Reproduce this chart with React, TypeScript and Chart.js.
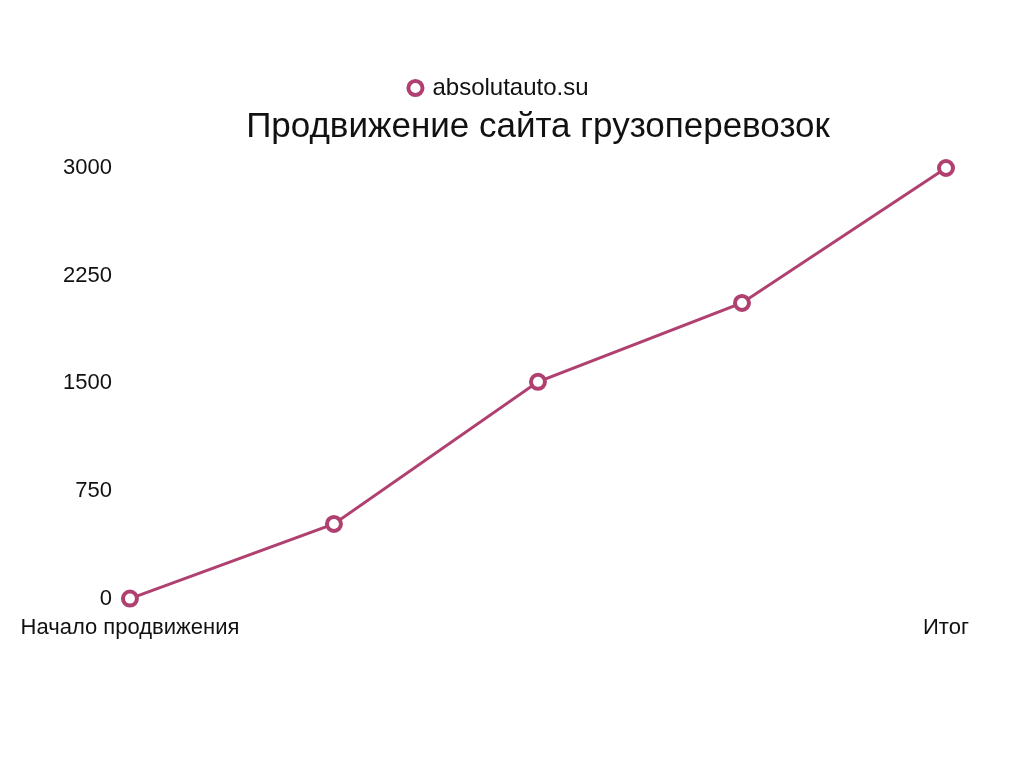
import { useEffect, useRef } from 'react';
import { Chart, registerables } from 'chart.js';

Chart.register(...registerables);

const labels = ['Начало продвижения', '', '', '', 'Итог'];
const visits = [0, 520, 1510, 2060, 3000];
const seriesName = 'absolutauto.su';
const titleText = 'Продвижение сайта грузоперевозок';

const lineColor = '#b0406f';
const fontFamily = '"Liberation Sans", Arial, Helvetica, sans-serif';

const App = () => {
  const canvasRef = useRef<HTMLCanvasElement>(null);
  const chartRef = useRef<Chart | null>(null);

  useEffect(() => {
    if (!canvasRef.current) return;
    if (chartRef.current) chartRef.current.destroy();

    chartRef.current = new Chart(canvasRef.current, {
      type: 'line',
      data: {
        labels,
        datasets: [
          {
            label: seriesName,
            data: visits,
            borderColor: lineColor,
            backgroundColor: '#ffffff',
            borderWidth: 3,
            pointRadius: 7,
            pointBorderWidth: 4,
            pointBackgroundColor: '#ffffff',
            pointBorderColor: lineColor,
            tension: 0,
            clip: false,
          },
        ],
      },
      options: {
        responsive: true,
        maintainAspectRatio: false,
        animation: false,
        layout: {
          padding: { left: 53, right: 78, top: 74, bottom: 119 },
        },
        plugins: {
          legend: {
            position: 'top',
            weight: 3000,
            labels: {
              usePointStyle: true,
              pointStyle: 'circle',
              boxWidth: 10,
              boxHeight: 10,
              color: '#111',
              font: { family: fontFamily, size: 24 },
              padding: 2,
            },
          },
          title: {
            display: true,
            fullSize: false,
            text: titleText,
            color: '#111',
            font: { family: fontFamily, size: 35, weight: 'normal', lineHeight: 1 },
            padding: { top: 0, bottom: 23 },
          },
          tooltip: { enabled: false },
        },
        scales: {
          x: {
            grid: { display: false },
            border: { display: false },
            ticks: {
              color: '#111',
              font: { family: fontFamily, size: 22 },
              autoSkip: false,
              maxRotation: 0,
              padding: 8,
            },
          },
          y: {
            min: 0,
            max: 3000,
            grid: { display: false },
            border: { display: false },
            ticks: {
              stepSize: 750,
              color: '#111',
              font: { family: fontFamily, size: 22 },
              padding: 10,
              callback: (value) => String(value),
            },
          },
        },
      },
    });

    return () => {
      if (chartRef.current) {
        chartRef.current.destroy();
        chartRef.current = null;
      }
    };
  }, []);

  return (
    <div style={{ position: 'fixed', left: 0, top: 0, width: '1024px', height: '768px', background: '#fff' }}>
      <canvas ref={canvasRef}></canvas>
    </div>
  );
};

export default App;
